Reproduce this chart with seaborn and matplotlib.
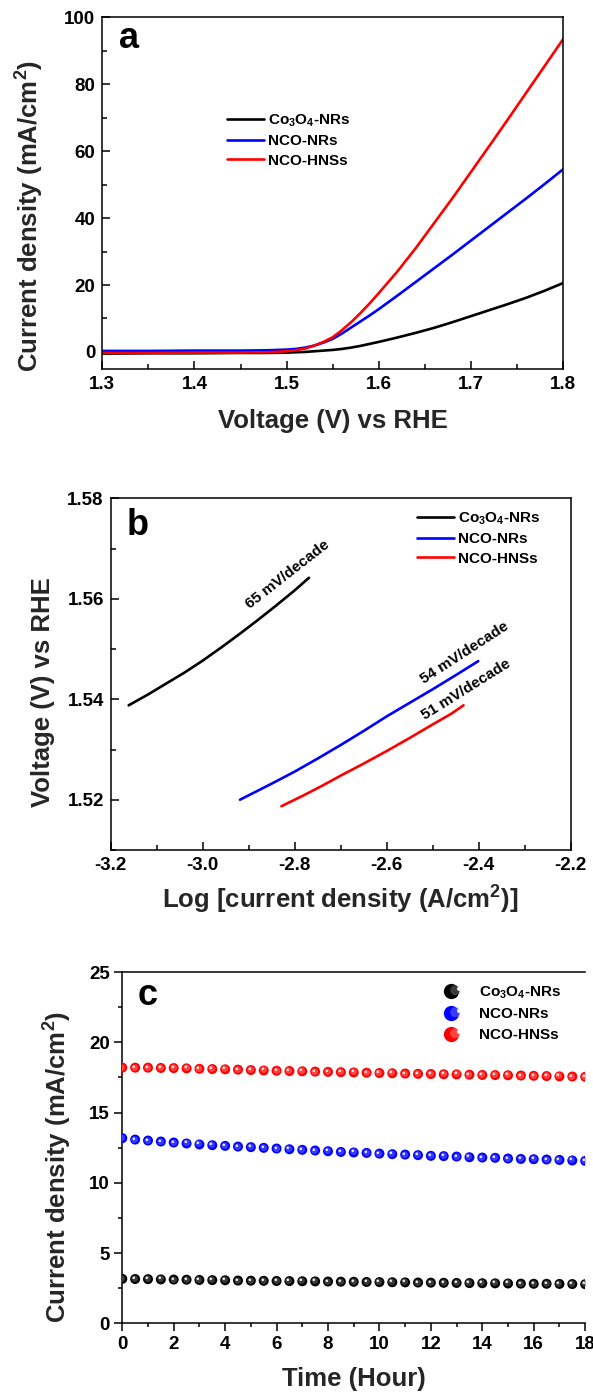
import numpy as np
import pandas as pd
import matplotlib
matplotlib.use("Agg")
import matplotlib.pyplot as plt
import seaborn as sns
from matplotlib.path import Path
from matplotlib.lines import Line2D
from matplotlib.legend_handler import HandlerTuple
from matplotlib.ticker import MultipleLocator, FormatStrFormatter

# ---------------- data ----------------
samples = ["Co$_3$O$_4$-NRs", "NCO-NRs", "NCO-HNSs"]
sample_colors = ["#000000", "#0000ff", "#ff0000"]

# (a) polarisation curves: potential (V vs RHE) and current density (mA/cm2)
lsv_voltage = [1.30, 1.35, 1.40, 1.45, 1.48, 1.50, 1.51, 1.52, 1.53, 1.54, 1.55,
               1.56, 1.57, 1.58, 1.59, 1.60, 1.62, 1.64, 1.66, 1.68, 1.70, 1.72,
               1.74, 1.76, 1.78, 1.80]
lsv_co3o4 = [-0.5, -0.4, -0.4, -0.3, -0.3, -0.2, -0.1, 0.0, 0.2, 0.4, 0.6,
             0.9, 1.3, 1.8, 2.4, 3.0, 4.3, 5.7, 7.2, 8.9, 10.7, 12.5,
             14.3, 16.2, 18.3, 20.6]
lsv_nco_nrs = [0.3, 0.3, 0.4, 0.4, 0.5, 0.7, 0.9, 1.3, 1.9, 2.8, 3.9,
               5.5, 7.3, 9.1, 10.9, 12.8, 16.8, 20.9, 25.0, 29.1, 33.3, 37.5,
               41.7, 45.9, 50.2, 54.6]
lsv_nco_hnss = [-0.3, -0.3, -0.2, -0.2, -0.1, 0.2, 0.5, 1.0, 1.9, 3.0, 4.4,
                6.5, 8.9, 11.6, 14.5, 17.6, 24.0, 31.0, 38.5, 46.0, 53.8, 61.6,
                69.5, 77.5, 85.5, 93.5]

# (b) Tafel plots: log j (A/cm2) and potential (V vs RHE)
tafel_logj_co3o4 = [-3.161, -3.12, -3.08, -3.04, -3.00, -2.96, -2.92, -2.88,
                    -2.84, -2.80, -2.769]
tafel_v_co3o4 = [1.5388, 1.5409, 1.5431, 1.5453, 1.5477, 1.5503, 1.5530,
                 1.5558, 1.5587, 1.5617, 1.5642]
tafel_logj_nco_nrs = [-2.919, -2.85, -2.80, -2.75, -2.70, -2.65, -2.60, -2.55,
                      -2.50, -2.45, -2.401]
tafel_v_nco_nrs = [1.5200, 1.5232, 1.5256, 1.5282, 1.5309, 1.5337, 1.5366,
                   1.5393, 1.5420, 1.5448, 1.5476]
tafel_logj_nco_hnss = [-2.829, -2.78, -2.74, -2.70, -2.65, -2.60, -2.55, -2.50,
                       -2.46, -2.433]
tafel_v_nco_hnss = [1.5187, 1.5209, 1.5228, 1.5248, 1.5272, 1.5297, 1.5323,
                    1.5350, 1.5371, 1.5388]
tafel_slopes = ["65 mV/decade", "54 mV/decade", "51 mV/decade"]

# (c) chronoamperometry: time (h) and current density (mA/cm2)
time_h = [0.0, 0.5, 1.0, 1.5, 2.0, 2.5, 3.0, 3.5, 4.0, 4.5, 5.0, 5.5, 6.0,
          6.5, 7.0, 7.5, 8.0, 8.5, 9.0, 9.5, 10.0, 10.5, 11.0, 11.5, 12.0,
          12.5, 13.0, 13.5, 14.0, 14.5, 15.0, 15.5, 16.0, 16.5, 17.0, 17.5, 18.0]
ca_co3o4 = [3.16, 3.15, 3.14, 3.12, 3.11, 3.10, 3.08, 3.07, 3.06, 3.04, 3.03,
            3.02, 3.01, 3.00, 2.99, 2.98, 2.97, 2.96, 2.95, 2.94, 2.93, 2.92,
            2.91, 2.90, 2.89, 2.88, 2.87, 2.86, 2.85, 2.84, 2.83, 2.82, 2.81,
            2.81, 2.80, 2.79, 2.78]
ca_nco_nrs = [13.18, 13.08, 13.01, 12.94, 12.87, 12.80, 12.73, 12.68, 12.63,
              12.58, 12.54, 12.49, 12.44, 12.39, 12.35, 12.30, 12.25, 12.20,
              12.16, 12.13, 12.08, 12.04, 12.01, 11.97, 11.92, 11.90, 11.87,
              11.82, 11.80, 11.78, 11.73, 11.70, 11.68, 11.66, 11.63, 11.59, 11.56]
ca_nco_hnss = [18.20, 18.20, 18.20, 18.18, 18.17, 18.15, 18.12, 18.10, 18.08,
               18.06, 18.03, 18.00, 17.98, 17.96, 17.94, 17.92, 17.90, 17.88,
               17.86, 17.84, 17.82, 17.80, 17.78, 17.76, 17.75, 17.73, 17.72,
               17.70, 17.68, 17.67, 17.66, 17.64, 17.62, 17.60, 17.58, 17.57, 17.55]

# ---------------- style ----------------
sns.set_theme(style="ticks")
plt.rcParams["font.family"] = ["Liberation Sans", "DejaVu Sans"]
plt.rcParams["font.weight"] = "bold"
plt.rcParams["axes.labelweight"] = "bold"
plt.rcParams["mathtext.default"] = "regular"
plt.rcParams["axes.unicode_minus"] = False
plt.rcParams["axes.linewidth"] = 1.1
plt.rcParams["axes.edgecolor"] = "black"
plt.rcParams["text.color"] = "black"
plt.rcParams["xtick.color"] = "black"
plt.rcParams["ytick.color"] = "black"

TICK_FS = 13.5
LABEL_FS = 18.5
LEG_FS = 11
LETTER_FS = 26
palette = dict(zip(samples, sample_colors))

fig = plt.figure(figsize=(5.93, 13.97), dpi=100)
ax_a = fig.add_axes([0.1725, 0.7361, 0.7772, 0.2515])
ax_b = fig.add_axes([0.1867, 0.3916, 0.7757, 0.2516])
ax_c = fig.add_axes([0.2062, 0.0528, 0.7806, 0.2513])


def style_ticks(ax, direction, major_len, minor_len, pad):
    ax.tick_params(which="both", direction=direction, top=False, right=False,
                   width=1.1, labelsize=TICK_FS, pad=pad)
    ax.tick_params(which="major", length=major_len)
    ax.tick_params(which="minor", length=minor_len)
    for lab in ax.get_xticklabels() + ax.get_yticklabels():
        lab.set_fontweight("bold")


# ---------------- (a) LSV ----------------
lsv = pd.DataFrame({
    "V": lsv_voltage * 3,
    "j": lsv_co3o4 + lsv_nco_nrs + lsv_nco_hnss,
    "sample": [s for s in samples for _ in lsv_voltage],
})
sns.lineplot(data=lsv, x="V", y="j", hue="sample", hue_order=samples,
             palette=palette, linewidth=1.9, errorbar=None, ax=ax_a)
ax_a.set_xlim(1.3, 1.8)
ax_a.set_ylim(-5, 100)
ax_a.xaxis.set_major_locator(MultipleLocator(0.1))
ax_a.xaxis.set_minor_locator(MultipleLocator(0.05))
ax_a.xaxis.set_major_formatter(FormatStrFormatter("%.1f"))
ax_a.yaxis.set_major_locator(MultipleLocator(20))
ax_a.yaxis.set_minor_locator(MultipleLocator(10))
style_ticks(ax_a, "in", 6, 3.5, 5)
ax_a.set_xlabel("Voltage (V) vs RHE", fontsize=LABEL_FS, fontweight="bold")
ax_a.set_ylabel("Current density (mA/cm$^2$)", fontsize=LABEL_FS, fontweight="bold")
ax_a.xaxis.set_label_coords(0.5, -0.114)
ax_a.yaxis.set_label_coords(-0.122, 0.435)
ax_a.text(0.0575, 0.9118, "a", transform=ax_a.transAxes, fontsize=LETTER_FS,
          fontweight="bold", ha="center", va="baseline")
ax_a.legend(loc="upper left", bbox_to_anchor=(0.2706, 0.729), frameon=False,
            prop={"weight": "bold", "size": LEG_FS},
            handlelength=2.42, handletextpad=0.26, labelspacing=0.35,
            borderpad=0, borderaxespad=0)

# ---------------- (b) Tafel ----------------
tafel = pd.DataFrame({
    "logj": tafel_logj_co3o4 + tafel_logj_nco_nrs + tafel_logj_nco_hnss,
    "V": tafel_v_co3o4 + tafel_v_nco_nrs + tafel_v_nco_hnss,
    "sample": [samples[0]] * len(tafel_logj_co3o4)
              + [samples[1]] * len(tafel_logj_nco_nrs)
              + [samples[2]] * len(tafel_logj_nco_hnss),
})
sns.lineplot(data=tafel, x="logj", y="V", hue="sample", hue_order=samples,
             palette=palette, linewidth=1.9, errorbar=None, sort=True, ax=ax_b)
ax_b.set_xlim(-3.2, -2.2)
ax_b.set_ylim(1.51, 1.58)
ax_b.xaxis.set_major_locator(MultipleLocator(0.2))
ax_b.xaxis.set_minor_locator(MultipleLocator(0.1))
ax_b.xaxis.set_major_formatter(FormatStrFormatter("%.1f"))
ax_b.yaxis.set_major_locator(MultipleLocator(0.02))
ax_b.yaxis.set_minor_locator(MultipleLocator(0.01))
ax_b.yaxis.set_major_formatter(FormatStrFormatter("%.2f"))
style_ticks(ax_b, "in", 6, 3.5, 5)
ax_b.set_xlabel("Log [current density (A/cm$^2$)]", fontsize=LABEL_FS, fontweight="bold")
ax_b.set_ylabel("Voltage (V) vs RHE", fontsize=LABEL_FS, fontweight="bold")
ax_b.xaxis.set_label_coords(0.5, -0.097)
ax_b.yaxis.set_label_coords(-0.121, 0.45)
ax_b.text(0.0593, 0.8962, "b", transform=ax_b.transAxes, fontsize=LETTER_FS,
          fontweight="bold", ha="center", va="baseline")
for text, (x, y, rot) in zip(tafel_slopes, [(-2.816, 1.5648, 38),
                                           (-2.430, 1.5492, 33),
                                           (-2.428, 1.5419, 32)]):
    ax_b.text(x, y, text, fontsize=11, fontweight="bold", rotation=rot,
              ha="center", va="center", rotation_mode="anchor")
ax_b.legend(loc="upper left", bbox_to_anchor=(0.6667, 0.965), frameon=False,
            prop={"weight": "bold", "size": LEG_FS},
            handlelength=2.42, handletextpad=0.26, labelspacing=0.35,
            borderpad=0, borderaxespad=0)

# ---------------- (c) stability ----------------
ca = pd.DataFrame({
    "t": time_h * 3,
    "j": ca_co3o4 + ca_nco_nrs + ca_nco_hnss,
    "sample": [s for s in samples for _ in time_h],
})
MS = 7.2
sns.scatterplot(data=ca, x="t", y="j", hue="sample", hue_order=samples,
                palette=palette, s=MS ** 2, linewidth=0, legend=False, ax=ax_c,
                zorder=3)


def offset_disc(cx, cy, r):
    # disc marker placed off-centre; the lone leading MOVETO keeps the
    # marker scale identical to a plain unit circle
    c = Path.circle((cx, cy), r)
    verts = np.vstack([[0.5, 0.5], c.vertices])
    codes = np.concatenate([[Path.MOVETO], c.codes])
    return Path(verts, codes)


shade_mid = offset_disc(-0.08, 0.08, 0.33)
shade_hi = offset_disc(-0.17, 0.17, 0.13)
mid_colors = {"#000000": "#6a6a6a", "#0000ff": "#6a6aff", "#ff0000": "#ff7a7a"}

for s, col in zip(samples, sample_colors):
    sub = ca[ca["sample"] == s]
    ax_c.plot(sub["t"], sub["j"], ls="none", marker=shade_mid, ms=MS,
              mfc=mid_colors[col], mec="none", alpha=0.55, zorder=4)
    ax_c.plot(sub["t"], sub["j"], ls="none", marker=shade_hi, ms=MS,
              mfc="white", mec="none", alpha=0.9, zorder=5)

ax_c.set_xlim(0, 18)
ax_c.set_ylim(0, 25)
ax_c.xaxis.set_major_locator(MultipleLocator(2))
ax_c.xaxis.set_minor_locator(MultipleLocator(1))
ax_c.yaxis.set_major_locator(MultipleLocator(5))
ax_c.yaxis.set_minor_locator(MultipleLocator(2.5))
style_ticks(ax_c, "out", 5.5, 3, 3.5)
ax_c.spines["right"].set_visible(False)
ax_c.set_xlabel("Time (Hour)", fontsize=LABEL_FS, fontweight="bold")
ax_c.set_ylabel("Current density (mA/cm$^2$)", fontsize=LABEL_FS, fontweight="bold")
ax_c.xaxis.set_label_coords(0.5, -0.126)
ax_c.yaxis.set_label_coords(-0.105, 0.446)
ax_c.text(0.0549, 0.9068, "c", transform=ax_c.transAxes, fontsize=LETTER_FS,
          fontweight="bold", ha="center", va="baseline")

LEG_MS = 11
handles = []
for col in sample_colors:
    base = Line2D([], [], ls="none", marker="o", ms=LEG_MS, mfc=col, mec="none")
    mid = Line2D([], [], ls="none", marker=shade_mid, ms=LEG_MS,
                 mfc=mid_colors[col], mec="none", alpha=0.55)
    hi = Line2D([], [], ls="none", marker=shade_hi, ms=LEG_MS,
                mfc="white", mec="none", alpha=0.9)
    handles.append((base, mid, hi))
ax_c.legend(handles, samples, handler_map={tuple: HandlerTuple(ndivide=None, pad=0)},
            loc="upper left", bbox_to_anchor=(0.7037, 0.966), frameon=False,
            prop={"weight": "bold", "size": LEG_FS},
            handlelength=1.0, handletextpad=1.0, labelspacing=0.45,
            borderpad=0, borderaxespad=0)

fig.savefig("out.png", dpi=100)
